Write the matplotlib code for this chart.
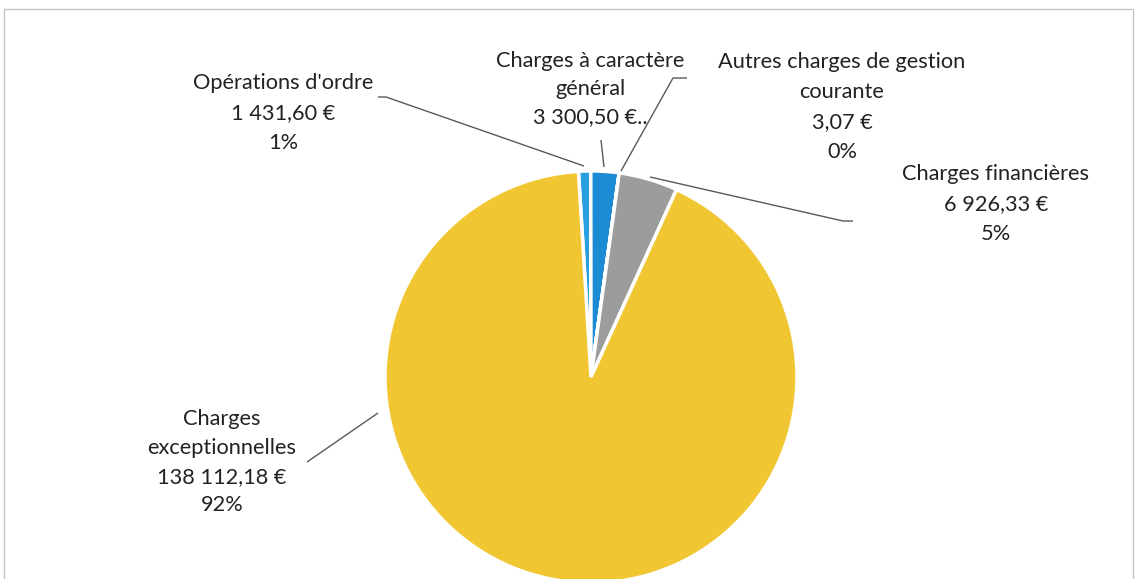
import numpy as np
import matplotlib
matplotlib.use("Agg")
import matplotlib.pyplot as plt
from matplotlib.patches import Rectangle

# ---- data ----
categories = ["Opérations d'ordre", "Charges à caractère général",
              "Autres charges de gestion courante", "Charges financières",
              "Charges exceptionnelles"]
values = [1431.60, 3300.50, 3.07, 6926.33, 138112.18]
value_labels = ["1 431,60 €", "3 300,50 €..", "3,07 €", "6 926,33 €", "138 112,18 €"]
pct_labels = ["1%", "", "0%", "5%", "92%"]
label_texts = [
    "Opérations d'ordre\n1 431,60 €\n1%",
    "Charges à caractère\ngénéral\n3 300,50 €..",
    "Autres charges de gestion\ncourante\n3,07 €\n0%",
    "Charges financières\n6 926,33 €\n5%",
    "Charges\nexceptionnelles\n138 112,18 €\n92%",
]
colors = ["#2a9fdf", "#1d8bd3", "#9c9c9c", "#9c9c9c", "#f1c633"]

W, H = 1137, 579
fig = plt.figure(figsize=(W / 100, H / 100), dpi=100)
ax = fig.add_axes([0, 0, 1, 1])

def py(y):  # image-pixel y -> data y
    return H - y

cx, cy, R = 591, py(377), 206
explode = [0.07, 0.07, 0.07, 0.07, 0.0]
wedges, _ = ax.pie(values, colors=colors, startangle=93.5, counterclock=False,
                   center=(cx, cy), radius=R, explode=explode,
                   wedgeprops=dict(edgecolor="white", linewidth=2.5),
                   frame=True)
ax.set_xlim(0, W)
ax.set_ylim(0, H)
ax.set_aspect("equal")
ax.axis("off")

# border
ax.add_patch(Rectangle((4, -5), W - 8, H - 4, fill=False,
                       edgecolor="#c4c4c4", linewidth=1.0))

font = ["Lato", "DejaVu Sans"]
fs = 15.7
label_ls = [1.62, 1.5, 1.62, 1.62, 1.55]
# label layout (centers in image pixels, top of text block)
label_pos = [(283, 73), (590, 51), (842, 52), (996, 164), (222, 409)]
for txt, (x, y), ls in zip(label_texts, label_pos, label_ls):
    ax.text(x, py(y), txt, ha="center", va="top", fontsize=fs,
            family=font, linespacing=ls, color="#222222")

lc = "#595959"
lw = 1.0
# leader lines (pixel layout)
leaders = [
    [(378, 97), (386, 97), (584, 166)],
    [(601, 140), (604, 167)],
    [(687, 78), (673, 78), (621, 171)],
    [(853, 221), (843, 221), (650, 177)],
    [(307, 462), (378, 413)],
]
for pts in leaders:
    xs = [p[0] for p in pts]
    ys = [py(p[1]) for p in pts]
    ax.plot(xs, ys, color=lc, linewidth=lw, solid_capstyle="butt")

fig.savefig("out.png", dpi=100)
